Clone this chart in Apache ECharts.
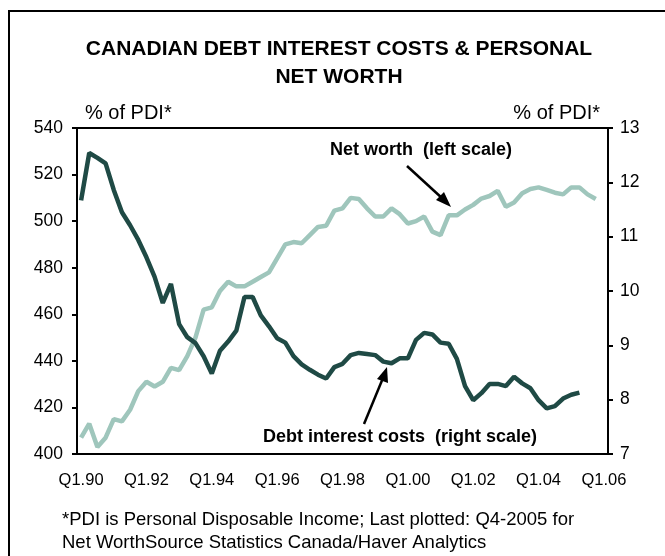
<!DOCTYPE html>
<html>
<head>
<meta charset="utf-8">
<script src="https://cdn.jsdelivr.net/npm/echarts@6/dist/echarts.min.js"></script>
<style>
  html, body { margin: 0; padding: 0; background: #fff; }
  #chart { width: 665px; height: 556px; }
</style>
</head>
<body>
<div id="chart"></div>
<script>
// quarters Q1.90 .. Q1.06
var years = ['90','91','92','93','94','95','96','97','98','99','00','01','02','03','04','05','06'];
var quarters = [];
years.forEach(function (y, k) {
  for (var q = 1; q <= 4; q++) {
    if (k === years.length - 1 && q > 1) break;
    quarters.push('Q' + q + '.' + y);
  }
});

// net worth, % of PDI (left scale), Q1.90 - Q4.05
var netWorth = [407, 413, 403, 407, 415, 414, 419, 427, 431, 429, 431, 437, 436, 442, 450, 462,
  463, 470, 474, 472, 472, 474, 476, 478, 484, 490, 491, 490.5, 494, 497.5, 498, 504.5,
  505.5, 510, 509.5, 505.5, 502, 502, 505.5, 503, 499, 500, 502, 495.5, 494, 502.5,
  502.5, 505, 507, 509.7, 510.8, 513, 506.2, 508, 512, 513.8, 514.5, 513.4, 512.2, 511.5,
  514.5, 514.5, 511.5, 509.5];

// debt interest costs, % of PDI (right scale), Q1.90 - Q2.05
var debtCosts = [11.67, 12.54, 12.45, 12.35, 11.86, 11.45, 11.21, 10.94, 10.62, 10.26, 9.78, 10.13,
  9.39, 9.15, 9.04, 8.8, 8.48, 8.9, 9.07, 9.27, 9.89, 9.89, 9.55, 9.35, 9.13, 9.05, 8.8,
  8.65, 8.55, 8.46, 8.39, 8.6, 8.66, 8.82, 8.86, 8.84, 8.82, 8.7, 8.67, 8.76, 8.76, 9.1,
  9.23, 9.2, 9.05, 9.03, 8.75, 8.25, 7.99, 8.12, 8.29, 8.29, 8.25, 8.42, 8.3, 8.21, 7.99,
  7.84, 7.88, 8.02, 8.09, 8.13];

var fontFam = '"Liberation Sans", Arial, sans-serif';
var myChart = echarts.init(document.getElementById('chart'));

var option = {
  animation: false,
  backgroundColor: '#fff',
  textStyle: { fontFamily: fontFam },
  title: {
    text: 'CANADIAN DEBT INTEREST COSTS & PERSONAL\nNET WORTH',
    left: 334, top: 30, textAlign: 'center',
    textStyle: { fontSize: 21, fontWeight: 'bold', color: '#000', lineHeight: 28, fontFamily: fontFam }
  },
  grid: { left: 77, right: 57, top: 128, bottom: 102 },
  xAxis: [{
    type: 'category',
    data: quarters,
    boundaryGap: true,
    axisLine: { lineStyle: { color: '#000', width: 2 } },
    axisTick: { interval: 3, length: 5, lineStyle: { color: '#000', width: 2 } },
    axisLabel: { interval: 7, color: '#000', fontSize: 16.5, margin: 18, fontFamily: fontFam }
  }, {
    type: 'category',
    data: quarters,
    position: 'top',
    axisLine: { show: true, lineStyle: { color: '#000', width: 2 } },
    axisTick: { show: false },
    axisLabel: { show: false }
  }],
  yAxis: [{
    type: 'value',
    min: 400, max: 540, interval: 20,
    name: '% of PDI*',
    nameLocation: 'end',
    nameGap: 5,
    nameTextStyle: { color: '#000', fontSize: 20, align: 'left', verticalAlign: 'bottom', padding: [0, 0, 0, 8], fontFamily: fontFam },
    axisLine: { show: true, lineStyle: { color: '#000', width: 2 } },
    axisTick: { show: true, length: 5, lineStyle: { color: '#000', width: 2 } },
    axisLabel: { color: '#000', fontSize: 17.5, margin: 14, fontFamily: fontFam },
    splitLine: { show: false }
  }, {
    type: 'value',
    min: 7, max: 13, interval: 1,
    name: '% of PDI*',
    nameLocation: 'end',
    nameGap: 5,
    nameTextStyle: { color: '#000', fontSize: 20, align: 'right', verticalAlign: 'bottom', padding: [0, 8, 0, 0], fontFamily: fontFam },
    axisLine: { show: true, lineStyle: { color: '#000', width: 2 } },
    axisTick: { show: true, length: 5, lineStyle: { color: '#000', width: 2 } },
    axisLabel: { color: '#000', fontSize: 17.5, margin: 12, fontFamily: fontFam },
    splitLine: { show: false }
  }],
  series: [{
    name: 'Net worth',
    type: 'line',
    yAxisIndex: 0,
    data: netWorth,
    symbol: 'none',
    lineStyle: { color: '#9fc6bc', width: 4.5 }
  }, {
    name: 'Debt interest costs',
    type: 'line',
    yAxisIndex: 1,
    data: debtCosts,
    symbol: 'none',
    lineStyle: { color: '#1f4a45', width: 4.5 }
  }],
  graphic: [
    // outer frame
    { type: 'rect', shape: { x: 9, y: 11, width: 700, height: 600 }, style: { fill: 'none', stroke: '#000', lineWidth: 2 }, silent: true },
    // annotations
    { type: 'text', left: 330, top: 141, style: { text: 'Net worth  (left scale)', font: 'bold 18px ' + fontFam, fill: '#000' } },
    { type: 'line', shape: { x1: 407, y1: 166, x2: 443, y2: 199 }, style: { stroke: '#000', lineWidth: 2.5 } },
    { type: 'polygon', shape: { points: [[451, 207], [436, 200], [444, 192]] }, style: { fill: '#000' } },
    { type: 'text', left: 263, top: 428, style: { text: 'Debt interest costs  (right scale)', font: 'bold 18px ' + fontFam, fill: '#000' } },
    { type: 'line', shape: { x1: 364, y1: 424, x2: 383, y2: 378 }, style: { stroke: '#000', lineWidth: 2.5 } },
    { type: 'polygon', shape: { points: [[387, 367], [377, 379], [388, 383]] }, style: { fill: '#000' } },
    // footnote
    { type: 'text', left: 62, top: 508, style: { text: '*PDI is Personal Disposable Income; Last plotted: Q4-2005 for\nNet WorthSource Statistics Canada/Haver Analytics', font: '18.5px ' + fontFam, lineHeight: 23, fill: '#000' } }
  ]
};
myChart.setOption(option);
</script>
</body>
</html>
